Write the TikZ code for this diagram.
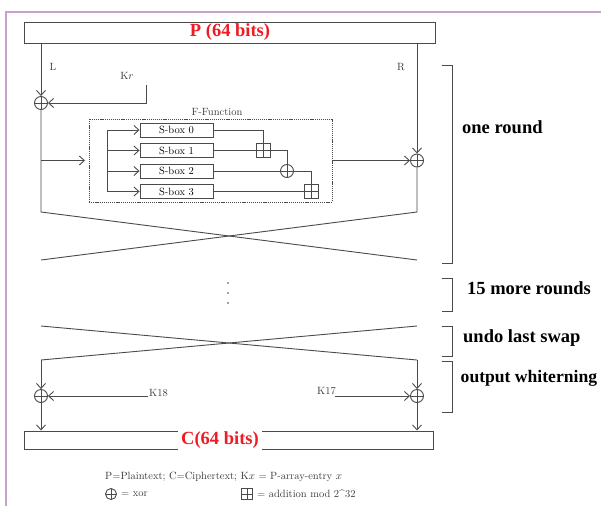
\documentclass[tikz,border=0pt]{standalone}
\usepackage{fontspec}
\newfontfamily\tnr{Liberation Serif}
\usetikzlibrary{arrows.meta}
\definecolor{ln}{HTML}{4A4A4A}
\definecolor{frame}{HTML}{C89FCF}
\definecolor{redt}{HTML}{EE1C25}
\tikzset{
  wire/.style={draw=ln, line width=0.9pt},
  arr/.style={wire, -{Straight Barb[length=5pt,width=9pt]}},
  bar/.style={draw=ln, line width=1pt, inner sep=0pt, fill=white},
  sbox/.style={draw=ln, line width=0.9pt, minimum width=73pt, minimum height=14pt, inner sep=0pt, font=\fontsize{10.5}{12}\selectfont},
  xorn/.style={draw=ln, line width=0.9pt, circle, minimum size=#1, inner sep=0pt,
    path picture={\draw[ln, line width=0.9pt] (path picture bounding box.north) -- (path picture bounding box.south) (path picture bounding box.west) -- (path picture bounding box.east);}},
  xorn/.default=13pt,
  addn/.style={draw=ln, line width=0.9pt, rectangle, minimum size=#1, inner sep=0pt,
    path picture={\draw[ln, line width=0.9pt] (path picture bounding box.north) -- (path picture bounding box.south) (path picture bounding box.west) -- (path picture bounding box.east);}},
  addn/.default=14pt,
  lab/.style={inner sep=0pt, text=ln!80!black, font=\fontsize{10.5}{12}\selectfont},
  big/.style={inner sep=0pt, font=\tnr\bfseries\fontsize{18.5}{20}\selectfont},
  brk/.style={draw=ln, line width=1pt},
}
\begin{document}
\begin{tikzpicture}[x=1pt,y=-1pt]
\useasboundingbox (0,0) rectangle (601,506);
% frame
\draw[frame, line width=1.6pt] (6,506) -- (6,12) -- (601,12);
% top box
\node[bar, minimum width=411pt, minimum height=21pt] (P) at (229.5,32.5) {};
\node[big, text=redt] (Ptxt) at (230,32.5) {P (64 bits)};
% round xors
\node[xorn] (xl1) at (41,103) {};
\node[xorn] (xr1) at (417,160.5) {};
\node[lab] (Llab) at (53,67) {L};
\node[lab] (Rlab) at (401,67) {R};
\draw[arr] (xl1 |- P.south) -- (xl1.north);
\draw[arr] (xr1 |- P.south) -- (xr1.north);
% key
\coordinate (kr) at (146,85);
\node[lab] (krlab) at (127,76) {K$r$};
\draw[arr] (kr) |- (xl1.east);
% F-function
\node[draw=ln, line width=0.8pt, dash pattern=on 1.2pt off 0.9pt, minimum width=243pt, minimum height=83pt, inner sep=0pt] (F) at (210.5,160.5) {};
\node[lab] (Flab) at (217,112) {F-Function};
\node[sbox] (s0) at (176.5,130) {S-box 0};
\node[sbox] (s1) at (176.5,150.5) {S-box 1};
\node[sbox] (s2) at (176.5,171) {S-box 2};
\node[sbox] (s3) at (176.5,191.5) {S-box 3};
\coordinate (d0) at (107,130);
\coordinate (d1) at (107,150.5);
\coordinate (d2) at (107,171);
\coordinate (d3) at (107,191.5);
\draw[wire] (d0) -- (d3);
\draw[arr] (d0) -- (s0.west);
\draw[arr] (d1) -- (s1.west);
\draw[arr] (d2) -- (s2.west);
\draw[arr] (d3) -- (s3.west);
\coordinate (fin) at (85,160.5);
\draw[arr] (xl1 |- F) -- (fin);
\node[addn] (bp1) at (263.5,150.5) {};
\node[xorn] (x2) at (287,171) {};
\node[addn] (bp2) at (311.5,191.5) {};
\draw[wire] (s0.east) -| (bp1.north);
\draw[wire] (s1.east) -- (bp1.west);
\draw[wire] (bp1.east) -| (x2.north);
\draw[wire] (s2.east) -- (x2.west);
\draw[wire] (x2.east) -| (bp2.north);
\draw[wire] (s3.east) -- (bp2.west);
\draw[arr] (F.east) -- (xr1.west);
% swap 1
\coordinate (a1) at (41,212);
\coordinate (b1) at (417,212);
\coordinate (a2) at (41,260);
\coordinate (b2) at (417,260);
\draw[wire] (xl1.south) -- (a1) -- (b2);
\draw[wire] (xr1.south) -- (b1) -- (a2);
% dots
\fill[ln] (228,283) circle (0.9pt) (228,293) circle (0.9pt) (228,303) circle (0.9pt);
% swap 2
\coordinate (c1) at (41,326);
\coordinate (e1) at (417,326);
\coordinate (c2) at (41,360);
\coordinate (e2) at (417,360);
\draw[wire] (c1) -- (e2);
\draw[wire] (e1) -- (c2);
% output whitening
\node[xorn] (xl2) at (41,396) {};
\node[xorn] (xr2) at (417,396) {};
\draw[arr] (c2) -- (xl2.north);
\draw[arr] (e2) -- (xr2.north);
\node[bar, minimum width=409pt, minimum height=18pt, fill=none] (C) at (228.5,440) {};
\node[big, text=redt, fill=white, inner xsep=3pt, inner ysep=2pt] (Ctxt) at (220,440) {C(64 bits)};
\draw[arr] (xl2.south) -- (xl2 |- C.north);
\draw[arr] (xr2.south) -- (xr2 |- C.north);
\coordinate (k18) at (148,396);
\coordinate (k17) at (335,396);
\node[lab, anchor=west] (k18lab) at (149,393.5) {K18};
\node[lab, anchor=south east] (k17lab) at (336,395) {K17};
\draw[arr] (k18) -- (xl2.east);
\draw[arr] (k17) -- (xr2.west);
% brackets
\draw[brk] (442,65) -- (452,65) -- (452,263) -- (442,263);
\draw[brk] (442,278) -- (452,278) -- (452,311) -- (442,311);
\draw[brk] (442,326) -- (452,326) -- (452,356) -- (442,356);
\draw[brk] (442,361) -- (452,361) -- (452,412) -- (442,412);
\node[big, anchor=west] (t1) at (462,127) {one round};
\node[big, anchor=west] (t2) at (467,288) {15 more rounds};
\node[big, anchor=west] (t3) at (463,338) {undo last swap};
\node[big, anchor=west, font=\tnr\bfseries\fontsize{17.6}{20}\selectfont] (t4) at (460.5,378) {output whiterning};
% legend
\node[lab, anchor=west] (leg1) at (105,477) {P=Plaintext; C=Ciphertext; K$x$ = P-array-entry $x$};
\node[xorn=11pt] (legx) at (111,494) {};
\node[lab, anchor=west] (legxt) at (121,494) {= xor};
\node[addn=11pt] (lega) at (247,494) {};
\node[lab, anchor=west] (legat) at (257,494) {= addition mod 2\textasciicircum 32};
\end{tikzpicture}
\end{document}
